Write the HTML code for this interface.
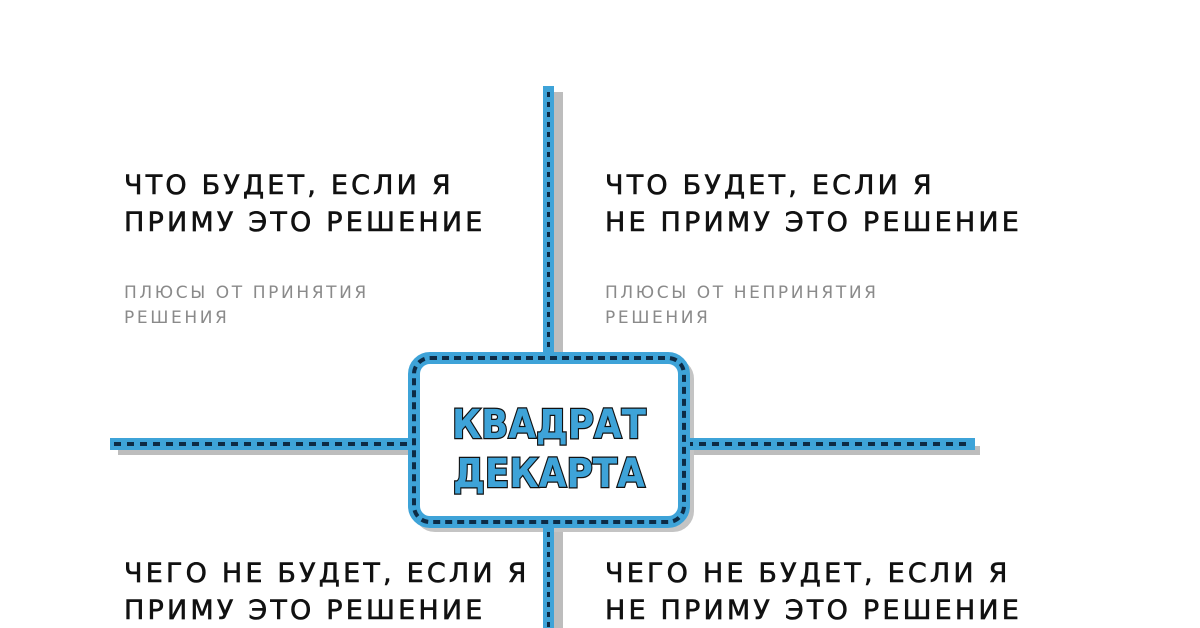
<!DOCTYPE html>
<html><head><meta charset="utf-8"><style>
html,body{margin:0;padding:0;background:#fff;}
body{width:1200px;height:628px;overflow:hidden;position:relative;}
svg{position:absolute;left:0;top:0;}
.h{font-family:"DejaVu Sans","Liberation Sans",sans-serif;font-size:27px;letter-spacing:3.2px;fill:#111;stroke:#111;stroke-width:0.6;}
.s{font-family:"DejaVu Sans","Liberation Sans",sans-serif;font-size:17px;letter-spacing:2.6px;fill:#8a8a8a;}
.t{font-family:"DejaVu Sans","Liberation Sans",sans-serif;font-size:40px;font-weight:bold;fill:#3ea3d8;stroke:#111;stroke-width:2.5;paint-order:stroke;letter-spacing:0px;}
</style></head><body>
<svg width="1200" height="628" viewBox="0 0 1200 628">
<!-- shadows -->
<rect x="553" y="92" width="10" height="536" fill="#bdbdbd"/>
<rect x="118" y="446" width="862" height="9" fill="#bdbdbd"/>
<rect x="419" y="363" width="270" height="164" rx="16" fill="none" stroke="#c4c4c4" stroke-width="10"/>
<!-- lines -->
<rect x="543" y="86" width="11" height="542" fill="#3ea3d8"/>
<line x1="548.5" y1="92" x2="548.5" y2="628" stroke="#0d2b45" stroke-width="3" stroke-dasharray="5,5"/>
<rect x="110" y="438" width="865" height="12" fill="#3ea3d8"/>
<line x1="114" y1="444" x2="972" y2="444" stroke="#0d2b45" stroke-width="4" stroke-dasharray="7,6"/>
<!-- box -->
<rect x="414" y="358" width="270" height="164" rx="16" fill="#fff" stroke="#3ea3d8" stroke-width="12"/>
<rect x="414" y="358" width="270" height="164" rx="16" fill="none" stroke="#0d2b45" stroke-width="4" stroke-dasharray="7,5"/>
<text class="t" x="549" y="438" text-anchor="middle" textLength="194" lengthAdjust="spacingAndGlyphs">КВАДРАТ</text>
<text class="t" x="549" y="487" text-anchor="middle" textLength="192" lengthAdjust="spacingAndGlyphs">ДЕКАРТА</text>
<!-- texts -->
<text class="h" x="124" y="194">ЧТО БУДЕТ, ЕСЛИ Я</text>
<text class="h" x="124" y="231">ПРИМУ ЭТО РЕШЕНИЕ</text>
<text class="s" x="124" y="298">ПЛЮСЫ ОТ ПРИНЯТИЯ</text>
<text class="s" x="124" y="323">РЕШЕНИЯ</text>
<text class="h" x="605" y="194">ЧТО БУДЕТ, ЕСЛИ Я</text>
<text class="h" x="605" y="231">НЕ ПРИМУ ЭТО РЕШЕНИЕ</text>
<text class="s" x="605" y="298">ПЛЮСЫ ОТ НЕПРИНЯТИЯ</text>
<text class="s" x="605" y="323">РЕШЕНИЯ</text>
<text class="h" x="124" y="582">ЧЕГО НЕ БУДЕТ, ЕСЛИ Я</text>
<text class="h" x="124" y="619">ПРИМУ ЭТО РЕШЕНИЕ</text>
<text class="h" x="605" y="582">ЧЕГО НЕ БУДЕТ, ЕСЛИ Я</text>
<text class="h" x="605" y="619">НЕ ПРИМУ ЭТО РЕШЕНИЕ</text>
</svg>
</body></html>
